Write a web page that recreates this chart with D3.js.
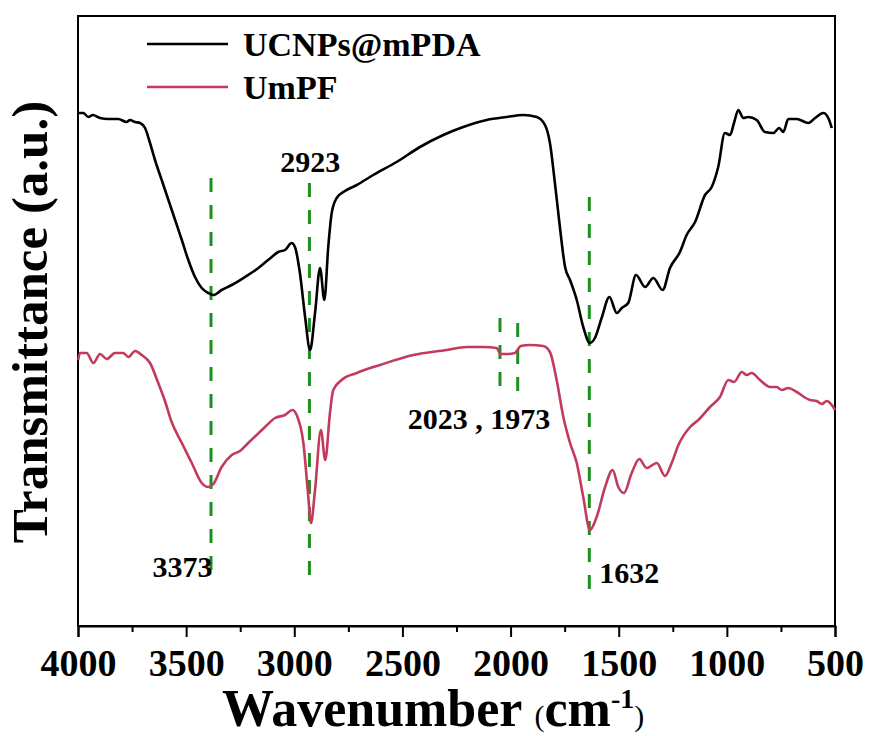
<!DOCTYPE html>
<html><head><meta charset="utf-8">
<script src="https://cdn.jsdelivr.net/npm/d3@7"></script>
<style>body{margin:0;background:#fff}svg{display:block}</style>
</head><body>
<svg id="chart" width="869" height="736"></svg>
<script>
// ---- data (wavenumber cm-1, transmittance a.u.) ----
const ucnpsWn = [3999,3976,3952,3931,3898,3860,3814,3775,3760,3736,3713,3690,3667,3644,3613,3582,3551,3520,3490,3459,3428,3398,3374,3336,3289,3228,3166,3104,3074,3043,3012,2997,2974,2950,2927,2904,2881,2861,2843,2827,2804,2766,2711,2635,2527,2419,2311,2219,2110,2018,1941,1879,1841,1818,1795,1772,1748,1725,1694,1664,1633,1610,1579,1543,1509,1486,1456,1420,1378,1340,1297,1263,1217,1186,1147,1101,1070,1040,1009,985,967,947,924,901,862,824,785,758,739,716,677,623,592,554,531,515];
const ucnpsT  = [513,513,509,511,508,507,507,504,506,504,503,498,483,466,446,426,406,386,366,349,338,333,331,336,341,349,358,369,374,376,383,379,353,309,276,313,358,326,379,413,428,435,441,451,464,479,491,499,506,509,511,509,501,483,443,399,359,346,326,299,283,288,308,329,313,318,323,351,339,348,336,358,374,391,404,431,439,459,493,491,503,516,508,509,506,494,493,498,494,507,507,503,508,513,508,498];
const umpfWn = [3999,3991,3960,3929,3898,3867,3829,3791,3767,3736,3705,3667,3629,3598,3567,3520,3474,3428,3398,3374,3336,3289,3251,3213,3135,3089,3043,3009,2989,2958,2935,2923,2904,2877,2857,2835,2820,2781,2711,2604,2450,2295,2203,2126,2064,2046,2018,1980,1953,1910,1849,1818,1787,1756,1725,1694,1664,1633,1602,1563,1528,1502,1476,1440,1405,1371,1324,1286,1255,1224,1170,1132,1078,1032,993,967,931,908,885,847,800,770,746,716,677,616,585,561,538,515,500];
const umpfT  = [266,273,273,263,272,267,273,273,269,275,271,263,243,225,204,183,163,143,139,142,159,171,175,183,199,208,211,216,211,183,129,103,136,196,166,213,236,246,253,261,271,276,279,279,278,272,272,273,280,281,280,274,246,209,183,163,129,96,109,139,156,139,133,153,167,158,163,150,163,181,199,206,219,229,246,244,254,251,253,246,239,239,236,238,234,226,225,222,225,221,216];
const seriesNames = ["UCNPs@mPDA", "UmPF"];
const xTicks = [4000,3500,3000,2500,2000,1500,1000,500];
const xMinorTicks = [3750,3250,2750,2250,1750,1250,750];
// marker lines: wavenumber, top value, bottom value
const markerWn  = [3385, 2930, 2049, 1967, 1636];
const markerTop = [448, 443, 308, 303, 429];
const markerBot = [46, 50, 234, 229, 36];
// annotation labels: text, wavenumber anchor, value (baseline)
const annText = ["2923", "3373", "2023 , 1973", "1632"];
const annWn   = [2926, 3378, 2146, 1590];
const annT    = [454, 49, 197, 43];

// ---- layout ----
const svg = d3.select("#chart");
const L = 78, R = 835, T = 16, B = 626;
const x = d3.scaleLinear().domain([4000, 500]).range([L, R]);
const y = d3.scaleLinear().domain([0, 610]).range([B, T]);
const serif = "'Liberation Serif','Times New Roman',serif";
const green = "#1f8f1f", black = "#000", red = "#c23a5c";

// frame
svg.append("rect").attr("x", L).attr("y", T).attr("width", R - L).attr("height", B - T)
  .attr("fill", "none").attr("stroke", "#000").attr("stroke-width", 2);

// x axis
const xAxis = d3.axisBottom(x).tickValues(xTicks).tickSize(11).tickPadding(12).tickFormat(d3.format("d"));
const gx = svg.append("g").attr("transform", `translate(0,${B})`).call(xAxis);
gx.select(".domain").attr("stroke-width", 2);
gx.selectAll(".tick line").attr("stroke-width", 2);
gx.selectAll(".tick text").attr("font-family", serif).attr("font-weight", "bold").attr("font-size", 38).attr("fill", "#000");
const gxm = svg.append("g").attr("transform", `translate(0,${B})`)
  .call(d3.axisBottom(x).tickValues(xMinorTicks).tickSize(6).tickFormat(""));
gxm.select(".domain").remove();
gxm.selectAll(".tick line").attr("stroke-width", 2);

// marker dashed lines
markerWn.forEach((w, i) => {
  svg.append("line").attr("x1", x(w)).attr("x2", x(w))
    .attr("y1", y(markerTop[i])).attr("y2", y(markerBot[i]))
    .attr("stroke", green).attr("stroke-width", 3).attr("stroke-dasharray", "14 13");
});

// lines
const line = d3.line().x(d => x(d[0])).y(d => y(d[1])).curve(d3.curveMonotoneX);
svg.append("path").datum(d3.zip(ucnpsWn, ucnpsT)).attr("d", line)
  .attr("fill", "none").attr("stroke", black).attr("stroke-width", 2.6).attr("stroke-linejoin", "round");
svg.append("path").datum(d3.zip(umpfWn, umpfT)).attr("d", line)
  .attr("fill", "none").attr("stroke", red).attr("stroke-width", 2.6).attr("stroke-linejoin", "round");

// annotations
annText.forEach((t, i) => {
  svg.append("text").attr("x", x(annWn[i])).attr("y", y(annT[i]))
    .attr("text-anchor", i === 3 ? "start" : (i === 1 ? "end" : "middle"))
    .attr("font-family", serif).attr("font-weight", "bold").attr("font-size", 30).text(t);
});

// legend
const legColors = [black, red];
seriesNames.forEach((n, i) => {
  const ly = 44 + i * 43;
  svg.append("line").attr("x1", 147).attr("x2", 228).attr("y1", ly).attr("y2", ly)
    .attr("stroke", legColors[i]).attr("stroke-width", 2.6);
  svg.append("text").attr("x", 243).attr("y", ly + 12).attr("font-family", serif)
    .attr("font-weight", "bold").attr("font-size", 34).text(n);
});

// axis titles
const xt = svg.append("text").attr("x", 222).attr("y", 726).attr("font-family", serif).attr("font-weight", "bold");
xt.append("tspan").attr("font-size", 52).text("Wavenumber ");
xt.append("tspan").attr("font-size", 30).attr("font-weight", "normal").text("(");
xt.append("tspan").attr("font-size", 52).text("cm");
xt.append("tspan").attr("font-size", 28).attr("dy", -18).text("-1");
xt.append("tspan").attr("font-size", 30).attr("font-weight", "normal").attr("dy", 18).text(")");

svg.append("text").attr("transform", "translate(47,322) rotate(-90)")
  .attr("text-anchor", "middle").attr("font-family", serif).attr("font-weight", "bold")
  .attr("font-size", 51).text("Transmittance (a.u.)");
</script>
</body></html>
